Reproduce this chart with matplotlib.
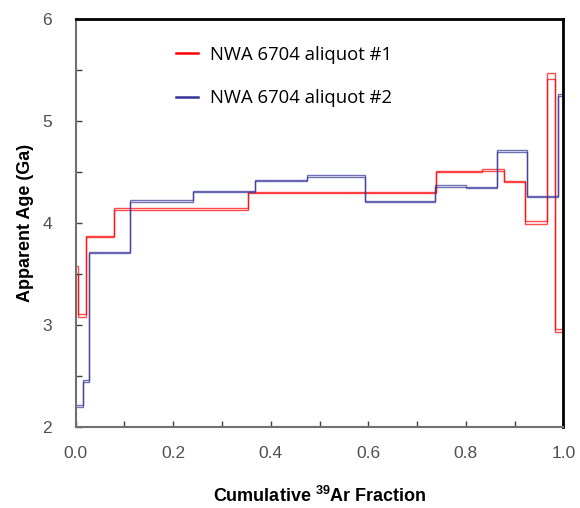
import numpy as np
import matplotlib.pyplot as plt
from matplotlib.lines import Line2D
from matplotlib.ticker import MultipleLocator

plt.rcParams['font.family'] = ['Liberation Sans', 'DejaVu Sans']
plt.rcParams['mathtext.fontset'] = 'custom'
plt.rcParams['mathtext.rm'] = 'Liberation Sans'
plt.rcParams['mathtext.bf'] = 'Liberation Sans:bold'

# --- aliquot #1 (red): cumulative 39Ar step edges, age upper / lower (Ga) ---
edges_1 = [0, 0.0045, 0.022, 0.079, 0.353, 0.738, 0.834, 0.878, 0.922, 0.967, 0.983, 1.0]
age_hi_1 = [3.58, 3.105, 3.875, 4.145, 4.30, 4.51, 4.53, 4.415, 4.015, 5.475, 2.955]
age_lo_1 = [3.50, 3.075, 3.865, 4.130, 4.29, 4.495, 4.51, 4.405, 3.990, 5.410, 2.930]

# --- aliquot #2 (blue) ---
edges_2 = [0, 0.016, 0.0265, 0.111, 0.241, 0.368, 0.475, 0.594, 0.737, 0.801, 0.863,
           0.926, 0.988, 0.9995, 1.0]
age_hi_2 = [2.21, 2.46, 3.715, 4.22, 4.31, 4.42, 4.465, 4.215, 4.37, 4.355, 4.71, 4.265, 5.265, 7.0]
age_lo_2 = [2.19, 2.44, 3.705, 4.205, 4.30, 4.41, 4.450, 4.205, 4.355, 4.345, 4.695, 4.255, 5.245, 7.0]

labels = ['NWA 6704 aliquot #1', 'NWA 6704 aliquot #2']
red = '#FF0000'
blue = '#333399'

fig = plt.figure(figsize=(5.8, 5.08), dpi=100)
ax = fig.add_axes([0.1305, 0.160, 0.841, 0.8026])

for hi, lo, ed, c in [(age_hi_1, age_lo_1, edges_1, red), (age_hi_2, age_lo_2, edges_2, blue)]:
    ax.stairs(hi, ed, baseline=None, color=c, lw=1.0, alpha=0.7)
    ax.stairs(lo, ed, baseline=None, color=c, lw=1.0, alpha=0.7)

ax.set_xlim(0, 1)
ax.set_ylim(2, 6)
ax.xaxis.set_major_locator(MultipleLocator(0.2))
ax.xaxis.set_minor_locator(MultipleLocator(0.1))
ax.yaxis.set_major_locator(MultipleLocator(1))
ax.yaxis.set_minor_locator(MultipleLocator(0.5))
ax.set_xticklabels([f'{v:.1f}' for v in ax.get_xticks()])
ax.tick_params(which='both', direction='in', length=4, width=1, color='#404040',
               labelsize=12.5, labelcolor='#505050')
ax.tick_params(axis='x', pad=14)
ax.tick_params(axis='y', pad=17)

for side in ['left', 'bottom']:
    ax.spines[side].set_color('#707070')
    ax.spines[side].set_linewidth(1.5)
for side in ['top', 'right']:
    ax.spines[side].set_color('black')
    ax.spines[side].set_linewidth(2)

ax.set_xlabel(r'Cumulative $^{\mathbf{39}}$Ar Fraction', fontsize=13, fontweight='bold', labelpad=18)
ax.set_ylabel('Apparent Age (Ga)', fontsize=13, fontweight='bold', labelpad=6)

handles = [Line2D([], [], color=red, lw=1.8), Line2D([], [], color=blue, lw=1.8)]
ax.legend(handles, labels, loc='upper left', bbox_to_anchor=(0.205, 0.935), frameon=False,
          prop={'family': 'Open Sans', 'size': 13.3}, handlelength=1.2, handletextpad=0.65,
          labelspacing=1.4, borderaxespad=0, borderpad=0)

fig.savefig('out.png', dpi=100)
